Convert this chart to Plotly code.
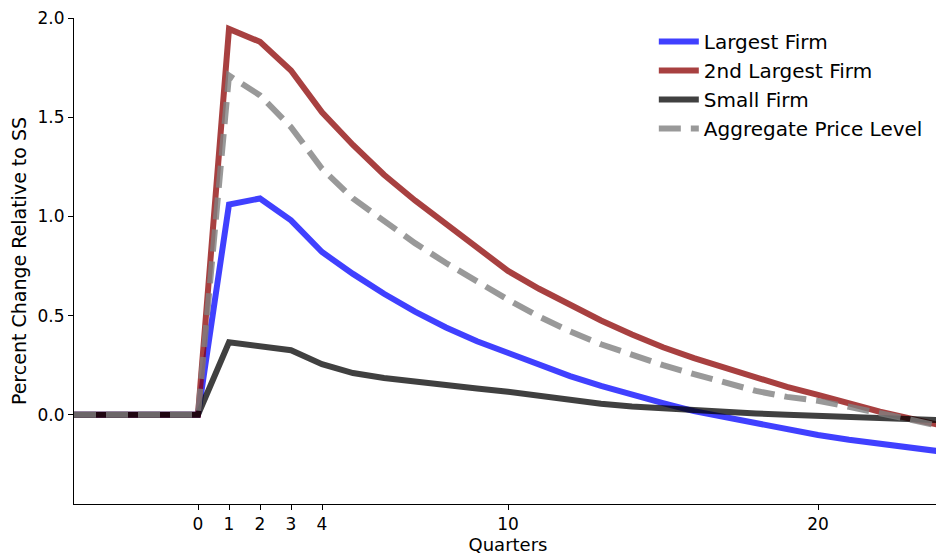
import plotly.graph_objects as go

quarters = list(range(-4, 25))

largest_firm = [0, 0, 0, 0, 0,
                1.06, 1.09, 0.98, 0.82, 0.71, 0.61, 0.52, 0.44, 0.37, 0.31,
                0.25, 0.195, 0.145, 0.10, 0.058, 0.018, -0.012, -0.045, -0.075, -0.102,
                -0.126, -0.148, -0.168, -0.186]

second_largest = [0, 0, 0, 0, 0,
                  1.945, 1.88, 1.735, 1.525, 1.36, 1.21, 1.08, 0.96, 0.84, 0.725,
                  0.635, 0.555, 0.475, 0.405, 0.34, 0.285, 0.235, 0.185, 0.14, 0.10,
                  0.055, 0.015, -0.02, -0.055]

small_firm = [0, 0, 0, 0, 0,
              0.365, 0.345, 0.325, 0.255, 0.21, 0.185, 0.165, 0.148, 0.132, 0.116,
              0.095, 0.075, 0.055, 0.042, 0.032, 0.022, 0.013, 0.006, 0.0, -0.005,
              -0.01, -0.016, -0.022, -0.028]

aggregate_price = [0, 0, 0, 0, 0,
                   1.71, 1.61, 1.45, 1.24, 1.09, 0.975, 0.865, 0.765, 0.67, 0.58,
                   0.495, 0.42, 0.355, 0.30, 0.25, 0.205, 0.16, 0.12, 0.09, 0.07,
                   0.04, 0.01, -0.025, -0.06]

x_ticks = [0, 1, 2, 3, 4, 10, 20]
y_ticks = [0.0, 0.5, 1.0, 1.5, 2.0]

font = "DejaVu Sans"

series = [
    ("Largest Firm", largest_firm, dict(color="rgba(0,0,255,0.75)", width=6)),
    ("2nd Largest Firm", second_largest, dict(color="rgba(139,0,0,0.75)", width=6)),
    ("Small Firm", small_firm, dict(color="rgba(0,0,0,0.75)", width=6)),
    ("Aggregate Price Level", aggregate_price, dict(color="rgba(128,128,128,0.8)", width=6, dash="22px,10px")),
]

fig = go.Figure()
for name, vals, line in series:
    fig.add_trace(go.Scatter(x=quarters, y=vals, mode="lines", name=name, line=line))

# the page body adds an 8px offset, so the figure is sized/margined to compensate
fig.update_layout(
    width=936, height=550,
    margin=dict(l=66, r=2, t=10, b=54),
    plot_bgcolor="white", paper_bgcolor="white",
    font=dict(family=font, size=17, color="black"),
    showlegend=True,
    legend=dict(x=0.668, y=0.992, xanchor="left", yanchor="top",
                font=dict(family=font, size=20, color="black"),
                bgcolor="rgba(255,255,255,0)", tracegroupgap=0, itemwidth=40),
    xaxis=dict(range=[-4, 24], tickvals=x_ticks, ticktext=[str(v) for v in x_ticks],
               showgrid=False, zeroline=False, showline=True, linecolor="black", linewidth=1,
               ticks="outside", ticklen=5, tickcolor="black", automargin=False,
               tickfont=dict(family=font, size=17),
               title=dict(text="Quarters", font=dict(family=font, size=18), standoff=2)),
    yaxis=dict(range=[-0.45, 2.0], tickvals=y_ticks, ticktext=["0.0", "0.5", "1.0", "1.5", "2.0"],
               showgrid=False, zeroline=False, showline=True, linecolor="black", linewidth=1,
               ticks="outside", ticklen=5, tickcolor="black", automargin=False,
               ticklabeloverflow="allow",
               tickfont=dict(family=font, size=17),
               title=dict(text="Percent Change Relative to SS", font=dict(family=font, size=19), standoff=8)),
)

fig.write_html("out.html")
